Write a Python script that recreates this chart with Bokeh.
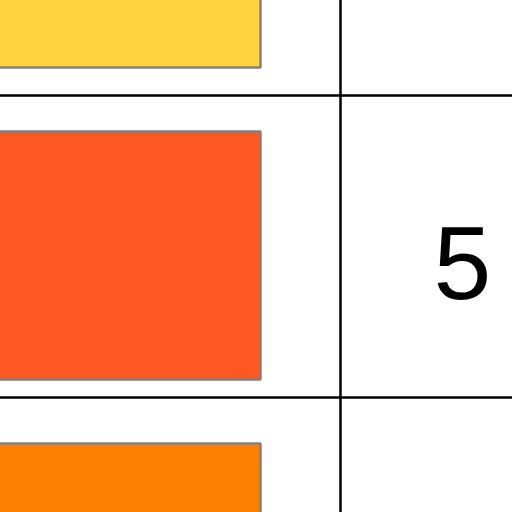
from bokeh.plotting import figure
from bokeh.models import Range1d, ColumnDataSource, Span
from bokeh.embed import file_html
from bokeh.resources import INLINE
from bokeh.core.properties import value

# ---- data ----
rows = ["Gold", "Deep Orange", "Orange"]
colors = ["#FFD23F", "#FF5722", "#FF8000"]
counts = [None, 5, None]          # only the middle row's count is visible in the crop

# ---- layout (pixel space of the cropped view) ----
W = H = 512
PAD = 4
PITCH = 312.0          # vertical distance between swatches
ROW1_CENTER = 255.0    # centre of the middle swatch
SWATCH_H = 248.0
SWATCH_LEFT = -200.0
SWATCH_RIGHT = 260.0
COL_DIVIDER = 340.0
TEXT_X = 462.0
TEXT_DY = 7.0
ROW_LINES = [95.0, 397.0]

idx = list(range(len(rows)))
centers = [ROW1_CENTER + (i - 1) * PITCH for i in idx]
tops = [c - SWATCH_H / 2 for c in centers]
bottoms = [c + SWATCH_H / 2 for c in centers]

p = figure(width=W + 2 * PAD, height=H + 2 * PAD, output_backend="svg", toolbar_location=None,
           x_range=Range1d(-PAD, W + PAD), y_range=Range1d(H + PAD, -PAD),
           min_border=0, min_border_left=0, min_border_right=0,
           min_border_top=0, min_border_bottom=0,
           styles={"margin-left": f"-{PAD}px", "margin-top": f"-{PAD}px"})
p.axis.visible = False
p.xgrid.visible = False
p.ygrid.visible = False
p.outline_line_color = None
p.background_fill_color = "white"
p.border_fill_color = "white"

src = ColumnDataSource(dict(
    row=rows, color=colors, top=tops, bottom=bottoms,
    left=[SWATCH_LEFT] * len(rows),
    right=[SWATCH_RIGHT] * len(rows),
))
p.quad(left="left", right="right", top="top", bottom="bottom", source=src,
       fill_color="color", line_color=None)

# swatch outlines: only the edges that lie inside the view
xs, ys = [], []
for t, b in zip(tops, bottoms):
    xs.append([SWATCH_LEFT, SWATCH_RIGHT, SWATCH_RIGHT, SWATCH_LEFT])
    ys.append([t, t, b, b])
p.multi_line(xs=xs, ys=ys, line_color="#808080", line_width=2.5)

for y in ROW_LINES:
    p.add_layout(Span(location=y, dimension="width", line_color="black", line_width=2.5))
p.add_layout(Span(location=COL_DIVIDER, dimension="height", line_color="black", line_width=2.5))

tx, ty, tt = [], [], []
for c, n in zip(centers, counts):
    if n is not None:
        tx.append(TEXT_X)
        ty.append(c + TEXT_DY)
        tt.append(str(n))
p.text(x=tx, y=ty, text=tt, text_font=value("Liberation Sans"),
       text_font_size="104px", text_align="center", text_baseline="alphabetic",
       text_color="black")

open("out.html", "w").write(file_html(p, INLINE))
